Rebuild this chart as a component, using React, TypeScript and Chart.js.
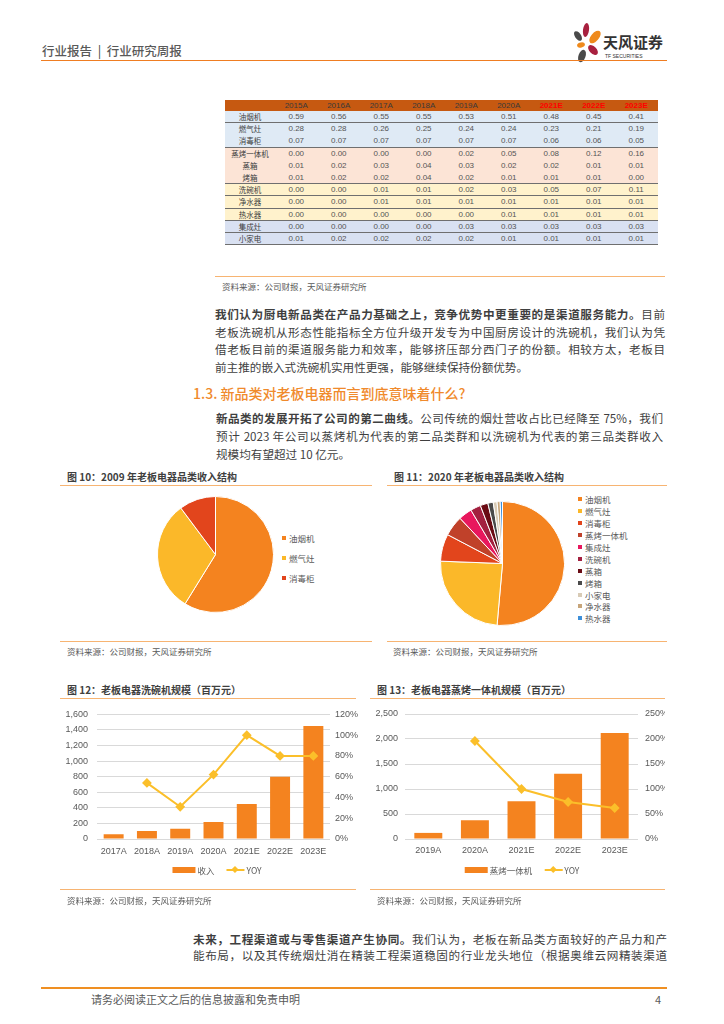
import React, { useEffect, useRef } from 'react';
import { Chart, registerables } from 'chart.js';

Chart.register(...registerables);
Chart.defaults.font.family = '"Liberation Sans", "Noto Sans CJK SC", sans-serif';

// ---------------- DATA ----------------
const tableYears = ['2015A', '2016A', '2017A', '2018A', '2019A', '2020A', '2021E', '2022E', '2023E'];
const tableCategories = ['油烟机', '燃气灶', '消毒柜', '蒸烤一体机', '蒸箱', '烤箱', '洗碗机', '净水器', '热水器', '集成灶', '小家电'];
const shareRangeHood = [0.59, 0.56, 0.55, 0.55, 0.53, 0.51, 0.48, 0.45, 0.41];
const shareGasStove = [0.28, 0.28, 0.26, 0.25, 0.24, 0.24, 0.23, 0.21, 0.19];
const shareSterilizer = [0.07, 0.07, 0.07, 0.07, 0.07, 0.07, 0.06, 0.06, 0.05];
const shareSteamOven = [0.0, 0.0, 0.0, 0.0, 0.02, 0.05, 0.08, 0.12, 0.16];
const shareSteamer = [0.01, 0.02, 0.03, 0.04, 0.03, 0.02, 0.02, 0.01, 0.01];
const shareOven = [0.01, 0.02, 0.02, 0.04, 0.02, 0.01, 0.01, 0.01, 0.0];
const shareDishwasher = [0.0, 0.0, 0.01, 0.01, 0.02, 0.03, 0.05, 0.07, 0.11];
const sharePurifier = [0.0, 0.0, 0.01, 0.01, 0.01, 0.01, 0.01, 0.01, 0.01];
const shareWaterHeater = [0.0, 0.0, 0.0, 0.0, 0.0, 0.01, 0.01, 0.01, 0.01];
const shareIntegratedStove = [0.0, 0.0, 0.0, 0.0, 0.03, 0.03, 0.03, 0.03, 0.03];
const shareSmallAppliance = [0.01, 0.02, 0.02, 0.02, 0.02, 0.01, 0.01, 0.01, 0.01];
const tableValues = [
  shareRangeHood, shareGasStove, shareSterilizer, shareSteamOven, shareSteamer, shareOven,
  shareDishwasher, sharePurifier, shareWaterHeater, shareIntegratedStove, shareSmallAppliance,
];

const pie2009Labels = ['油烟机', '燃气灶', '消毒柜'];
const pie2009Values = [58.8, 31.0, 10.2];

const pie2020Labels = ['油烟机', '燃气灶', '消毒柜', '蒸烤一体机', '集成灶', '洗碗机', '蒸箱', '烤箱', '小家电', '净水器', '热水器'];
const pie2020Values = [51.4, 24.2, 7.1, 5.3, 3.5, 2.7, 2.0, 1.4, 1.0, 0.8, 0.6];

const dwYears = ['2017A', '2018A', '2019A', '2020A', '2021E', '2022E', '2023E'];
const dwRevenue = [62, 102, 132, 218, 450, 800, 1450];
const dwYoY = [null, 0.54, 0.31, 0.62, 1.0, 0.8, 0.8];

const soYears = ['2019A', '2020A', '2021E', '2022E', '2023E'];
const soRevenue = [122, 375, 755, 1305, 2118];
const soYoY = [null, 1.96, 1.0, 0.74, 0.62];

// ---------------- STYLES ----------------
const CJK = '"Noto Sans CJK SC", "Liberation Sans", sans-serif';
const ORANGE_BAR = '#f4831f';
const YOY_YELLOW = '#fbbf2a';
const LIGHT_LINE = '#f7b472';
const TEXT = '#3f3f3f';
const GRAY = '#595959';
const pie3Colors = ['#f4831f', '#fbb829', '#e2451c'];
const pie11Colors = ['#f4831f', '#fbb829', '#e2451c', '#c0412a', '#e8175d', '#a3203f', '#6a0b14', '#4a4a4a', '#d8cbb6', '#c7a57a', '#3d8fd9'];
const rowBg = ['#dfeaf5', '#dfeaf5', '#dfeaf5', '#fce4d6', '#fce4d6', '#fce4d6', '#fff2cc', '#fff2cc', '#fff2cc', '#d9e1f2', '#d9e1f2'];
const rowDarkBorder = [true, false, true, false, false, true, true, true, true, true, true];

// ---------------- HELPERS ----------------
function ChartBox({ left, top, width, height, make }: { left: number; top: number; width: number; height: number; make: () => any }) {
  const ref = useRef<HTMLCanvasElement>(null);
  useEffect(() => {
    const chart = new Chart(ref.current as HTMLCanvasElement, make());
    return () => chart.destroy();
  }, []);
  return (
    <canvas
      ref={ref}
      width={width}
      height={height}
      style={{ position: 'absolute', left, top, width, height }}
    />
  );
}

function pieConfig(labels: string[], values: number[], colors: string[]) {
  return {
    type: 'pie',
    data: {
      labels,
      datasets: [{ data: values, backgroundColor: colors, borderColor: '#ffffff', borderWidth: 1 }],
    },
    options: {
      responsive: false,
      animation: false,
      events: [],
      layout: { padding: 0 },
      plugins: { legend: { display: false }, tooltip: { enabled: false } },
    },
  };
}

function comboConfig(o: {
  labels: string[]; revenue: number[]; yoy: (number | null)[]; barLabel: string;
  yMax: number; yStep: number; y1Max: number; y1Step: number;
  leftW: number; rightW: number; xH: number; padTop: number;
  yPad: number; y1Pad: number; xPad: number;
}) {
  const tickFont = { size: 9 };
  return {
    type: 'bar',
    data: {
      labels: o.labels,
      datasets: [
        {
          type: 'line', label: 'YOY', data: o.yoy, yAxisID: 'y1', order: 1,
          borderColor: YOY_YELLOW, borderWidth: 2, tension: 0,
          pointStyle: 'rectRot', pointRadius: 3.5,
          pointBackgroundColor: YOY_YELLOW, pointBorderColor: YOY_YELLOW,
        },
        {
          type: 'bar', label: o.barLabel, data: o.revenue, yAxisID: 'y', order: 2,
          backgroundColor: ORANGE_BAR, barPercentage: 0.6, categoryPercentage: 1.0,
        },
      ],
    },
    options: {
      responsive: false,
      animation: false,
      events: [],
      layout: { padding: { top: o.padTop, left: 0, right: 0, bottom: 0 } },
      plugins: { legend: { display: false }, tooltip: { enabled: false } },
      scales: {
        x: {
          grid: { display: false, drawTicks: false },
          border: { display: false },
          ticks: { color: GRAY, font: tickFont, padding: o.xPad, maxRotation: 0 },
          afterFit: (s: any) => { s.height = o.xH; },
        },
        y: {
          position: 'left', min: 0, max: o.yMax,
          grid: { color: '#d9d9d9', drawTicks: false, lineWidth: 1 },
          border: { display: false },
          ticks: {
            stepSize: o.yStep, color: GRAY, font: tickFont, padding: o.yPad,
            callback: (v: any) => Number(v).toLocaleString('en-US'),
          },
          afterFit: (s: any) => { s.width = o.leftW; },
        },
        y1: {
          position: 'right', min: 0, max: o.y1Max,
          grid: { display: false, drawTicks: false },
          border: { display: false },
          ticks: {
            stepSize: o.y1Step, color: GRAY, font: tickFont, padding: o.y1Pad,
            callback: (v: any) => Math.round(Number(v) * 100) + '%',
          },
          afterFit: (s: any) => { s.width = o.rightW; },
        },
      },
    },
  };
}

function Txt({ x, cy, lh = 14, size, color = TEXT, weight = 400, family = CJK, children, extra = {} }: any) {
  return (
    <div
      style={{
        position: 'absolute', left: x, top: cy - lh / 2, lineHeight: lh + 'px', height: lh,
        fontSize: size, color, fontWeight: weight, fontFamily: family, whiteSpace: 'nowrap', ...extra,
      }}
    >
      {children}
    </div>
  );
}

function JLine({ x, cy, w, children, justify = true }: any) {
  return (
    <div
      style={{
        position: 'absolute', left: x, top: cy - 9, width: w, lineHeight: '18px', height: 18,
        fontSize: 11.6, color: TEXT, fontFamily: CJK,
        textAlign: justify ? 'justify' : 'left', textAlignLast: justify ? 'justify' : 'left',
      } as any}
    >
      {children}
    </div>
  );
}

function HLine({ x1, x2, y, color = LIGHT_LINE, t = 1 }: any) {
  return <div style={{ position: 'absolute', left: x1, top: y - t / 2, width: x2 - x1, height: t, background: color }} />;
}

function LegendSquare({ x, cy, color, label }: any) {
  return (
    <div style={{ position: 'absolute', left: x, top: cy - 6, height: 12, display: 'flex', alignItems: 'center', fontFamily: CJK, fontSize: 8.5, color: GRAY, whiteSpace: 'nowrap' }}>
      <div style={{ width: 4, height: 4, background: color, marginRight: 3 }} />
      {label}
    </div>
  );
}

function ComboLegend({ cx, cy, barLabel }: any) {
  return (
    <div style={{ position: 'absolute', left: cx, top: cy - 6, height: 12, transform: 'translateX(-50%)', display: 'flex', alignItems: 'center', fontFamily: CJK, fontSize: 8.5, color: GRAY, whiteSpace: 'nowrap' }}>
      <div style={{ width: 23, height: 6, background: ORANGE_BAR, marginRight: 2 }} />
      <span>{barLabel}</span>
      <div style={{ position: 'relative', width: 18, height: 12, marginLeft: 12, marginRight: 2 }}>
        <div style={{ position: 'absolute', left: 0, top: 5, width: 18, height: 2, background: YOY_YELLOW }} />
        <div style={{ position: 'absolute', left: 6, top: 3, width: 5, height: 5, background: YOY_YELLOW, transform: 'rotate(45deg)' }} />
      </div>
      <span>YOY</span>
    </div>
  );
}

function ShareTable() {
  const labelW = 50;
  const colW = 42.5;
  const rowH = 12.2;
  return (
    <div style={{ position: 'absolute', left: 225, top: 100, width: labelW + colW * 9, fontFamily: '"Liberation Sans", "Noto Sans CJK SC", sans-serif' }}>
      <div style={{ display: 'flex', height: 11, background: '#c65911' }}>
        <div style={{ width: labelW }} />
        {tableYears.map((y, i) => (
          <div key={y} style={{ width: colW, textAlign: 'center', fontSize: 8, lineHeight: '11px', color: i >= 6 ? '#ff0000' : '#3a3a3a', fontWeight: i >= 6 ? 700 : 400 }}>{y}</div>
        ))}
      </div>
      {tableCategories.map((c, r) => (
        <div key={c} style={{ display: 'flex', height: rowH, boxSizing: 'border-box', background: rowBg[r], borderBottom: rowDarkBorder[r] ? '1px solid #6f6f6f' : 'none' }}>
          <div style={{ width: labelW, textAlign: 'center', fontSize: 7.5, lineHeight: rowH - 1 + 'px', color: '#404040', fontFamily: CJK, whiteSpace: 'nowrap', overflow: 'hidden' }}>{c}</div>
          {tableValues[r].map((v, i) => (
            <div key={i} style={{ width: colW, textAlign: 'center', fontSize: 8, lineHeight: rowH - 1 + 'px', color: '#555555' }}>{v.toFixed(2)}</div>
          ))}
        </div>
      ))}
    </div>
  );
}

function Logo() {
  return (
    <div style={{ position: 'absolute', left: 570, top: 20, width: 100, height: 45 }}>
      <svg width={34} height={45} style={{ position: 'absolute', left: 0, top: 0 }}>
        <ellipse cx={8} cy={16} rx={3} ry={5.5} fill="#4a4a4a" transform="rotate(-35 8 16)" />
        <ellipse cx={16} cy={10} rx={3} ry={7} fill="#a8213f" transform="rotate(8 16 10)" />
        <ellipse cx={25} cy={17} rx={4} ry={7.5} fill="#ef8a1c" transform="rotate(40 25 17)" />
        <ellipse cx={11} cy={25} rx={4} ry={2.5} fill="#ef8a1c" transform="rotate(-15 11 25)" />
        <ellipse cx={23} cy={30} rx={3.5} ry={6} fill="#a8213f" transform="rotate(-45 23 30)" />
        <ellipse cx={12} cy={36} rx={3.5} ry={6.5} fill="#4a4a4a" transform="rotate(20 12 36)" />
      </svg>
      <div style={{ position: 'absolute', left: 33, top: 13, fontFamily: CJK, fontWeight: 700, fontSize: 15, lineHeight: '18px', color: '#333333', whiteSpace: 'nowrap' }}>天风证券</div>
      <div style={{ position: 'absolute', left: 35, top: 33, fontFamily: '"Liberation Sans", sans-serif', fontSize: 5, lineHeight: '6px', color: '#333333', whiteSpace: 'nowrap' }}>TF SECURITIES</div>
    </div>
  );
}

export default function App() {
  const B = ({ children }: any) => <span style={{ fontWeight: 700 }}>{children}</span>;
  return (
    <div style={{ position: 'absolute', left: 0, top: 0, width: 724, height: 1024, background: '#ffffff', overflow: 'hidden' }}>
      {/* Header */}
      <Txt x={42} cy={51} size={12.5} color={GRAY} weight={500}>行业报告&nbsp;&nbsp;|&nbsp;&nbsp;行业研究周报</Txt>
      <Logo />
      <HLine x1={41} x2={667} y={60.5} color="#ef7d22" t={1.5} />

      {/* Table */}
      <ShareTable />
      <HLine x1={215} x2={665} y={276} />
      <Txt x={222} cy={286} size={8.5} color={GRAY}>资料来源：公司财报，天风证券研究所</Txt>

      {/* Paragraph 1 */}
      <JLine x={215} cy={314} w={450}><B>我们认为厨电新品类在产品力基础之上，竞争优势中更重要的是渠道服务能力。</B>目前</JLine>
      <JLine x={215} cy={331.5} w={450}>老板洗碗机从形态性能指标全方位升级开发专为中国厨房设计的洗碗机，我们认为凭</JLine>
      <JLine x={215} cy={349} w={450}>借老板目前的渠道服务能力和效率，能够挤压部分西门子的份额。相较方太，老板目</JLine>
      <JLine x={215} cy={366.5} w={450} justify={false}>前主推的嵌入式洗碗机实用性更强，能够继续保持份额优势。</JLine>

      <Txt x={193} cy={393} lh={20} size={14} color="#f08a2c" weight={500}>1.3. 新品类对老板电器而言到底意味着什么?</Txt>

      {/* Paragraph 2 */}
      <JLine x={216} cy={418} w={447}><B>新品类的发展开拓了公司的第二曲线。</B>公司传统的烟灶营收占比已经降至 75%，我们</JLine>
      <JLine x={216} cy={436} w={447}>预计 2023 年公司以蒸烤机为代表的第二品类群和以洗碗机为代表的第三品类群收入</JLine>
      <JLine x={216} cy={454} w={447} justify={false}>规模均有望超过 10 亿元。</JLine>

      {/* Figure 10 */}
      <Txt x={67} cy={477} size={10} weight={700}>图 10：2009 年老板电器品类收入结构</Txt>
      <HLine x1={60} x2={372} y={485} />
      <ChartBox left={157} top={496} width={117} height={117} make={() => pieConfig(pie2009Labels, pie2009Values, pie3Colors)} />
      {pie2009Labels.map((l, i) => (
        <LegendSquare key={l} x={282} cy={538 + i * 20} color={pie3Colors[i]} label={l} />
      ))}
      <HLine x1={60} x2={372} y={641} />
      <Txt x={67} cy={651} size={8.5} color={GRAY}>资料来源：公司财报，天风证券研究所</Txt>

      {/* Figure 11 */}
      <Txt x={394} cy={477} size={10} weight={700}>图 11：2020 年老板电器品类收入结构</Txt>
      <HLine x1={387} x2={667} y={485} />
      <ChartBox left={440} top={501} width={125} height={125} make={() => pieConfig(pie2020Labels, pie2020Values, pie11Colors)} />
      {pie2020Labels.map((l, i) => (
        <LegendSquare key={l} x={578} cy={499.3 + i * 11.9} color={pie11Colors[i]} label={l} />
      ))}
      <HLine x1={387} x2={667} y={641} />
      <Txt x={393} cy={651} size={8.5} color={GRAY}>资料来源：公司财报，天风证券研究所</Txt>

      {/* Figure 12 */}
      <Txt x={67} cy={690} size={10} weight={700}>图 12：老板电器洗碗机规模（百万元）</Txt>
      <HLine x1={60} x2={356} y={698} />
      <ChartBox
        left={55} top={700} width={310} height={165}
        make={() => comboConfig({
          labels: dwYears, revenue: dwRevenue, yoy: dwYoY, barLabel: '收入',
          yMax: 1600, yStep: 200, y1Max: 1.2, y1Step: 0.2,
          leftW: 42, rightW: 35, xH: 26, padTop: 14, yPad: 9, y1Pad: 5, xPad: 7,
        })}
      />
      <ComboLegend cx={217} cy={870} barLabel="收入" />
      <HLine x1={60} x2={356} y={889} />
      <Txt x={67} cy={900} size={8.5} color={GRAY}>资料来源：公司财报，天风证券研究所</Txt>

      {/* Figure 13 */}
      <Txt x={377} cy={690} size={10} weight={700}>图 13：老板电器蒸烤一体机规模（百万元）</Txt>
      <HLine x1={370} x2={665} y={698} />
      <ChartBox
        left={365} top={700} width={300} height={165}
        make={() => comboConfig({
          labels: soYears, revenue: soRevenue, yoy: soYoY, barLabel: '蒸烤一体机',
          yMax: 2500, yStep: 500, y1Max: 2.5, y1Step: 0.5,
          leftW: 40, rightW: 27, xH: 26, padTop: 14, yPad: 7, y1Pad: 7, xPad: 6,
        })}
      />
      <ComboLegend cx={522} cy={870} barLabel="蒸烤一体机" />
      <HLine x1={370} x2={665} y={889} />
      <Txt x={377} cy={900} size={8.5} color={GRAY}>资料来源：公司财报，天风证券研究所</Txt>

      {/* Paragraph 3 */}
      <JLine x={193} cy={938.5} w={474}><B>未来，工程渠道或与零售渠道产生协同。</B>我们认为，老板在新品类方面较好的产品力和产</JLine>
      <JLine x={193} cy={955} w={474}>能布局，以及其传统烟灶消在精装工程渠道稳固的行业龙头地位（根据奥维云网精装渠道</JLine>

      {/* Footer */}
      <HLine x1={41} x2={667} y={988} color="#ef8f22" t={1.5} />
      <Txt x={91} cy={999} size={11} color={GRAY}>请务必阅读正文之后的信息披露和免责申明</Txt>
      <Txt x={655} cy={999} size={11} color={GRAY}>4</Txt>
    </div>
  );
}
